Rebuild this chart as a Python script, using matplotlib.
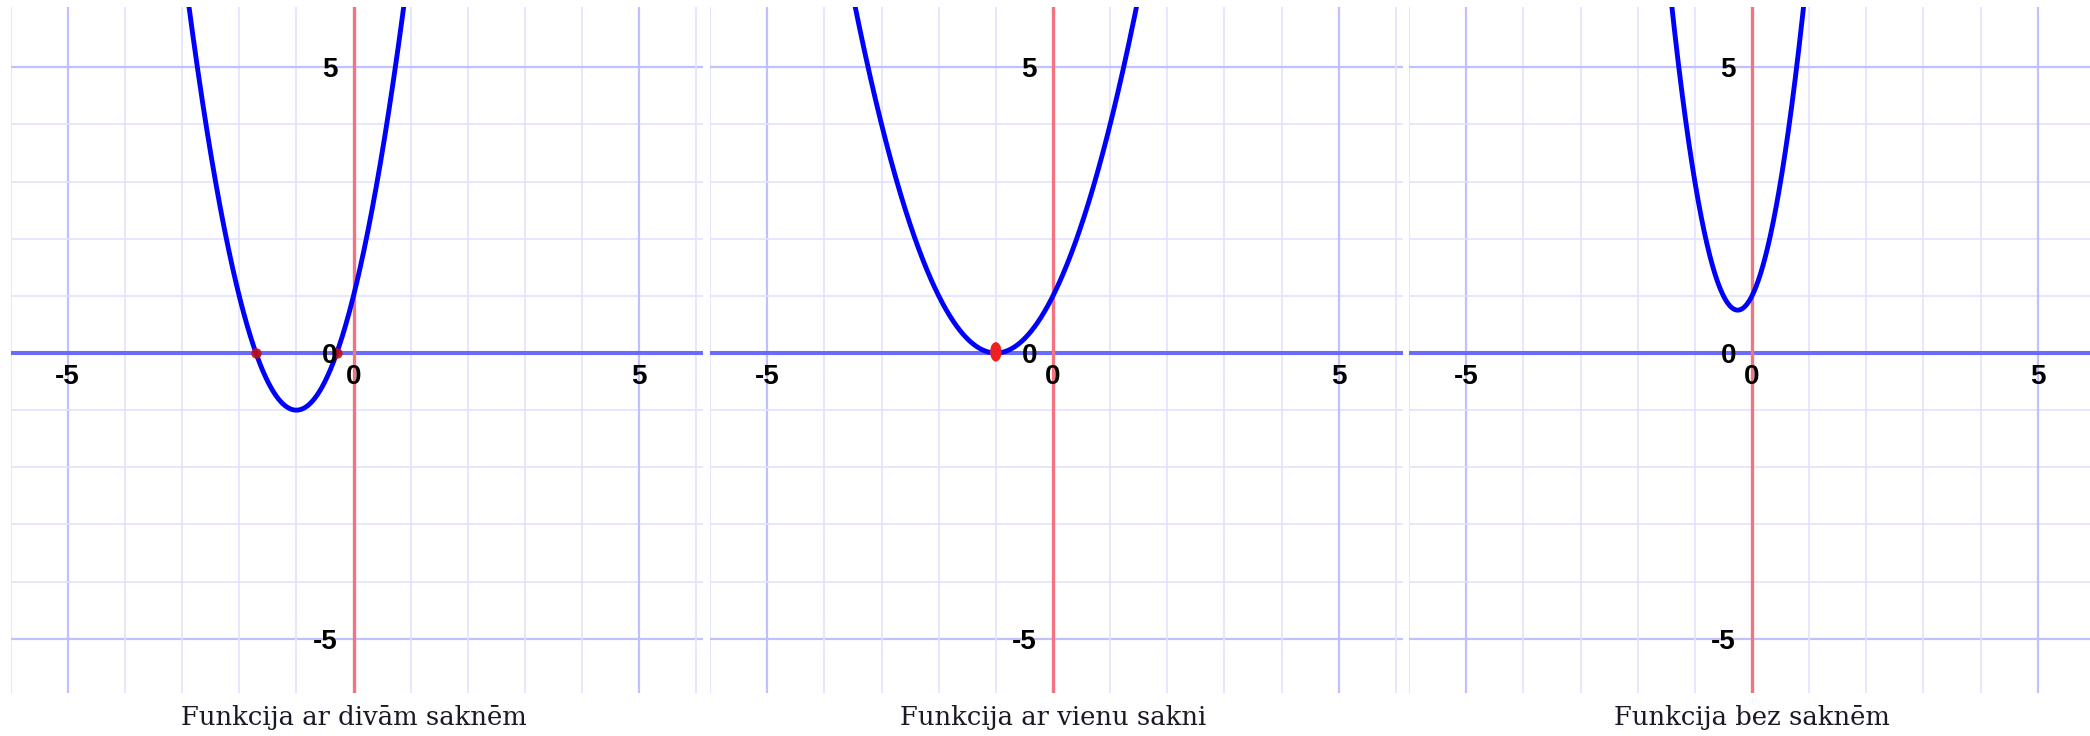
import numpy as np
import matplotlib
matplotlib.use("Agg")
import matplotlib.pyplot as plt
from matplotlib.patches import Ellipse

# ---- data ----
titles = ["Funkcija ar divām saknēm", "Funkcija ar vienu sakni", "Funkcija bez saknēm"]
coef_a = [2.0, 1.0, 4.0]
coef_b = [4.0, 2.0, 2.0]
coef_c = [1.0, 1.0, 1.0]
roots = [[-1.71, -0.29], [-1.0], []]
tick_vals = [-5, 0, 5]
tick_labels = ["-5", "0", "5"]

W, H = 2090, 736
fig = plt.figure(figsize=(W / 100, H / 100), dpi=100)

unit = 57.15
xlim = (-6.0, 6.12)
ylim = (-5.95, 6.05)
zero_x = [353.5, 1053.0, 1752.0]
zero_y = 353.0

minor_c = "#e2e2ff"
major_c = "#c0c0ff"
axis_blue = "#6a6aff"
axis_red = "#f27480"
curve_c = "#0000ff"
marker_cols = ["#c41010", "#ee2020", "#ee2020"]

for i in range(3):
    left_px = zero_x[i] + xlim[0] * unit
    width_px = (xlim[1] - xlim[0]) * unit
    top_px = zero_y - ylim[1] * unit
    height_px = (ylim[1] - ylim[0]) * unit
    ax = fig.add_axes([left_px / W, 1 - (top_px + height_px) / H, width_px / W, height_px / H])
    ax.set_xlim(*xlim)
    ax.set_ylim(*ylim)
    ax.set_axis_off()

    # grid
    for g in range(-6, 7):
        if g == 0:
            continue
        col = major_c if g in (-5, 5) else minor_c
        lw = 1.6 if g in (-5, 5) else 1.2
        ax.axvline(g, color=col, lw=lw, zorder=1)
        if abs(g) < 6:
            ax.axhline(g, color=col, lw=lw, zorder=1)

    # axes lines
    ax.axhline(0, color=axis_blue, lw=2.9, zorder=2)
    ax.axvline(0, color=axis_red, lw=2.4, zorder=2)

    # curve
    x = np.linspace(-6, 6.2, 2000)
    y = coef_a[i] * x**2 + coef_b[i] * x + coef_c[i]
    ax.plot(x, y, color=curve_c, lw=3.5, zorder=4, solid_capstyle="round")

    # root markers
    for r in roots[i]:
        if i == 1:
            ax.add_patch(Ellipse((r, 0.02), 0.2, 0.34, color=marker_cols[i], zorder=5, lw=0))
        else:
            ax.plot([r], [0], marker="o", ms=7.5, color=marker_cols[i], zorder=5, mew=0, alpha=0.9)

    # tick labels
    for v, lab in zip(tick_vals, tick_labels):
        ax.text(v, -0.42, lab, ha="center", va="center", fontsize=20,
                fontweight="bold", family="Liberation Sans", color="black", zorder=6)
        ax.text(-0.28, v - 0.05, lab, ha="right", va="center", fontsize=20,
                fontweight="bold", family="Liberation Sans", color="black", zorder=6)

    # caption
    ax.text(0.0, -6.38, titles[i], ha="center", va="center", fontsize=18.6,
            family="DejaVu Serif", color="#1a1a26", clip_on=False)

fig.savefig("out.png", dpi=100)
